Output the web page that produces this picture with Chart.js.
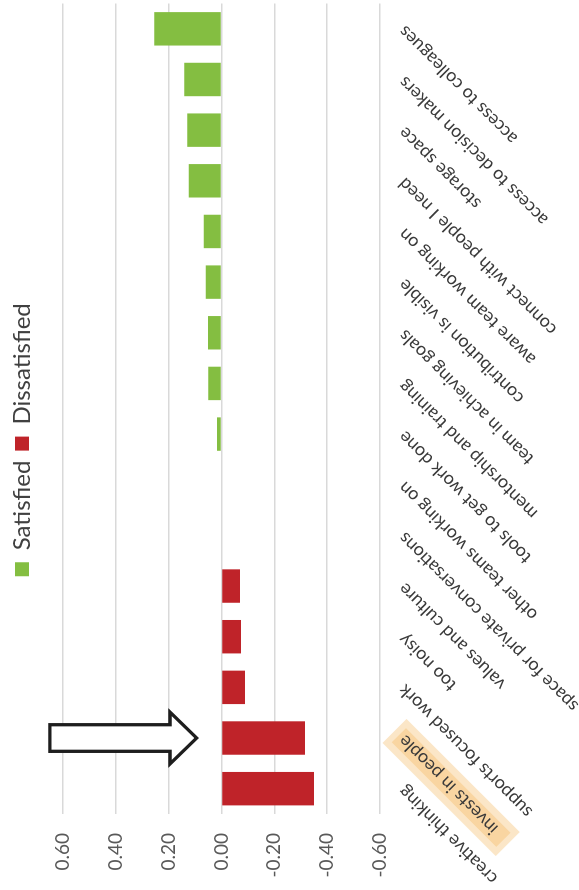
<!DOCTYPE html>
<html>
<head>
<meta charset="utf-8">
<script src="https://cdn.jsdelivr.net/npm/chart.js@4.4.1/dist/chart.umd.min.js"></script>
<style>
  html, body { margin: 0; padding: 0; background: #fff; overflow: hidden; width: 579px; height: 890px; }
  /* the chart is laid out landscape and turned a quarter turn to stand upright */
  #wrap { position: absolute; left: 0; top: 0; width: 890px; height: 579px;
          transform-origin: 0 0; transform: translate(0, 890px) rotate(-90deg); }
</style>
</head>
<body>
<div id="wrap"><canvas id="chart" width="890" height="579"></canvas></div>
<script>
// Survey items, left to right
const categories = [
  'creative thinking',
  'invests in people',
  'supports focused work',
  'too noisy',
  'values and culture',
  'space for private conversations',
  'other teams working on',
  'tools to get work done',
  'mentorship and training',
  'team in achieving goals',
  'contribution is visible',
  'aware team working on',
  'connect with people I need',
  'storage space',
  'access to decision makers',
  'access to colleagues'
];

// Net scores per item
const satisfied    = [null, null, null, null, null, null, null, 0.017, 0.050, 0.051, 0.060, 0.067, 0.124, 0.130, 0.141, 0.255];
const dissatisfied = [-0.350, -0.316, -0.089, -0.074, -0.070, null, null, null, null, null, null, null, null, null, null, null];

// Value axis ticks
const valueTicks = [-0.60, -0.40, -0.20, 0.00, 0.20, 0.40, 0.60];

// Highlighted item and the arrow pointing at it (arrow ends given in axis units)
const callout = { label: 'invests in people', tail: 0.65, headBase: 0.195, tip: 0.094 };

const FONT = 'Lato, "Open Sans", "Noto Sans", sans-serif';
const labelFontSize = 18;

// Legend: extra room below it, and nudged a little off centre
const legendTweaks = {
  id: 'legendTweaks',
  beforeInit(chart) {
    const legend = chart.legend;
    const fit = legend.fit;
    legend.fit = function () {
      fit.call(this);
      this.height += 19;
    };
    const draw = legend.draw;
    legend.draw = function () {
      const c = this.ctx;
      c.save();
      c.translate(7, 0);
      draw.call(this);
      c.restore();
    };
  }
};

// Soft marker behind the highlighted category label, and the outline arrow
const callouts = {
  id: 'callouts',
  beforeDraw(chart) {
    const xs = chart.scales.x;
    const i = categories.indexOf(callout.label);
    const items = xs.getLabelItems();
    const item = items[i];
    if (!item) return;
    const ctx = chart.ctx;
    const [tx, ty] = item.options.translation;
    ctx.save();
    ctx.font = labelFontSize + 'px ' + FONT;
    const w = ctx.measureText(callout.label).width;
    const lh = labelFontSize * 1.2;
    const base = item.options.textBaseline;
    let vc = item.textOffset || 0;
    if (base === 'top') vc += lh / 2;
    else if (base === 'bottom') vc -= lh / 2;
    ctx.translate(tx, ty);
    ctx.rotate(item.options.rotation);
    ctx.fillStyle = 'rgba(244, 178, 82, 0.32)';
    ctx.fillRect(-w - 18, vc - 17, w + 28, 34);
    ctx.fillRect(-w - 12, vc - 10, w + 16, 20);
    ctx.restore();
  },
  afterDraw(chart) {
    const xs = chart.scales.x, ys = chart.scales.y;
    const i = categories.indexOf(callout.label);
    const cx = xs.getPixelForTick(i);
    const y0 = ys.getPixelForValue(callout.tail);
    const yb = ys.getPixelForValue(callout.headBase);
    const yt = ys.getPixelForValue(callout.tip);
    const sw = 13.3, hw = 26;
    const ctx = chart.ctx;
    ctx.save();
    ctx.beginPath();
    ctx.moveTo(cx - sw, y0);
    ctx.lineTo(cx - sw, yb);
    ctx.lineTo(cx - hw, yb);
    ctx.lineTo(cx, yt);
    ctx.lineTo(cx + hw, yb);
    ctx.lineTo(cx + sw, yb);
    ctx.lineTo(cx + sw, y0);
    ctx.closePath();
    ctx.fillStyle = '#ffffff';
    ctx.fill();
    ctx.lineWidth = 3.3;
    ctx.lineJoin = 'miter';
    ctx.strokeStyle = '#1e1e1e';
    ctx.stroke();
    ctx.restore();
  }
};

Chart.defaults.font.family = FONT;

new Chart(document.getElementById('chart'), {
  type: 'bar',
  data: {
    labels: categories,
    datasets: [
      { label: 'Satisfied', data: satisfied, backgroundColor: '#84BE41', grouped: false },
      { label: 'Dissatisfied', data: dissatisfied, backgroundColor: '#BF2329', grouped: false }
    ]
  },
  options: {
    responsive: false,
    animation: false,
    devicePixelRatio: 1,
    categoryPercentage: 1,
    barPercentage: 0.66,
    layout: { padding: { top: 0, right: 3.5, bottom: 0, left: 0 } },
    plugins: {
      legend: {
        position: 'top',
        labels: {
          boxWidth: 14, boxHeight: 14, padding: 10,
          color: '#404040',
          font: { size: 24, family: FONT }
        }
      },
      tooltip: { enabled: false }
    },
    scales: {
      x: {
        grid: { display: false, drawTicks: false },
        border: { display: false },
        ticks: {
          autoSkip: false, minRotation: 45, maxRotation: 45, padding: 14,
          color: '#3a3a3a', font: { size: labelFontSize, family: FONT }
        },
        afterFit(scale) {
          scale.height = 199;
          scale.paddingLeft = 0;
          scale.paddingRight = 0;
        }
      },
      y: {
        min: -0.6, max: 0.6,
        grid: { color: '#d9d9d9', lineWidth: 1.5, drawTicks: false },
        border: { display: false },
        afterBuildTicks(scale) { scale.ticks = valueTicks.map(v => ({ value: v })); },
        ticks: {
          padding: 19,
          color: '#595959',
          font: { size: 19, family: FONT },
          callback: v => (Math.abs(v) < 1e-9 ? 0 : v).toFixed(2)
        },
        afterFit(scale) { scale.width = 76; }
      }
    }
  },
  plugins: [legendTweaks, callouts]
});
</script>
</body>
</html>
